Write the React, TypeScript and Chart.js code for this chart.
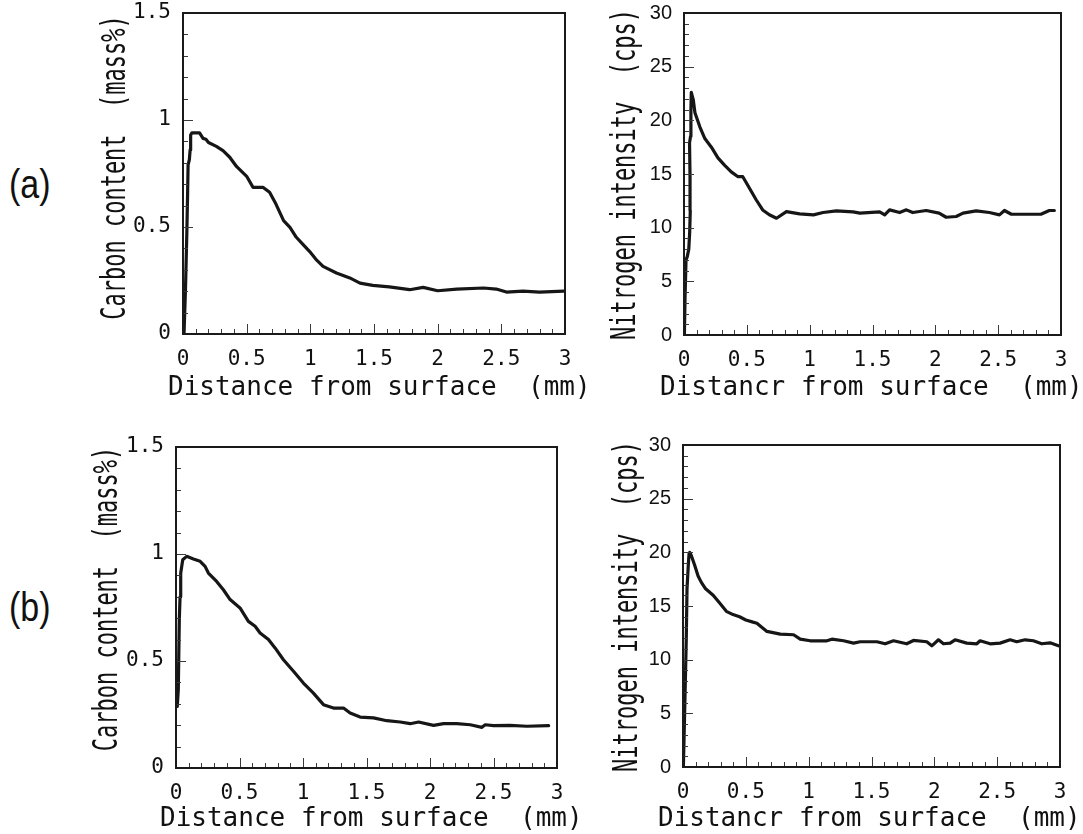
import React, { useEffect, useRef } from 'react';
import { Chart, registerables } from 'chart.js';

Chart.register(...registerables);

// ---------------- data ----------------
const distanceTicks = [0, 0.5, 1, 1.5, 2, 2.5, 3];
const carbonTicks = [0, 0.5, 1, 1.5];
const nitrogenTicks = [0, 5, 10, 15, 20, 25, 30];

// (a) carbon content (mass%) vs distance (mm)
const carbonA_x = [0.008, 0.02, 0.03, 0.036, 0.04, 0.05, 0.056, 0.06, 0.07, 0.13, 0.157, 0.18, 0.2, 0.262, 0.314, 0.367, 0.42, 0.46, 0.5, 0.55, 0.63, 0.68, 0.73, 0.79, 0.84, 0.89, 0.94, 0.995, 1.05, 1.1, 1.205, 1.31, 1.39, 1.49, 1.62, 1.78, 1.886, 2.0, 2.15, 2.36, 2.46, 2.54, 2.67, 2.8, 2.99];
const carbonA_y = [0.0, 0.22, 0.47, 0.65, 0.79, 0.815, 0.86, 0.93, 0.94, 0.94, 0.914, 0.91, 0.895, 0.877, 0.857, 0.826, 0.783, 0.76, 0.737, 0.685, 0.685, 0.662, 0.607, 0.53, 0.498, 0.452, 0.42, 0.385, 0.345, 0.316, 0.285, 0.262, 0.238, 0.227, 0.22, 0.207, 0.218, 0.202, 0.21, 0.215, 0.21, 0.196, 0.2, 0.196, 0.2];

// (a) nitrogen intensity (cps) vs distance (mm)
const nitrogenA_x = [0.003, 0.008, 0.016, 0.026, 0.038, 0.045, 0.05, 0.048, 0.044, 0.052, 0.055, 0.058, 0.065, 0.074, 0.087, 0.126, 0.166, 0.218, 0.27, 0.324, 0.376, 0.43, 0.468, 0.52, 0.574, 0.626, 0.679, 0.736, 0.815, 0.92, 1.03, 1.107, 1.213, 1.345, 1.4, 1.557, 1.597, 1.636, 1.716, 1.77, 1.82, 1.927, 2.03, 2.086, 2.166, 2.22, 2.325, 2.43, 2.51, 2.55, 2.605, 2.72, 2.84, 2.907, 2.947];
const nitrogenA_y = [0, 3.3, 7.0, 7.3, 8.0, 9.5, 11.6, 14.75, 17.9, 18.5, 21.0, 22.6, 22.3, 21.9, 20.7, 19.4, 18.3, 17.5, 16.5, 15.8, 15.2, 14.75, 14.75, 13.7, 12.6, 11.65, 11.2, 10.88, 11.5, 11.28, 11.19, 11.41, 11.56, 11.47, 11.35, 11.47, 11.19, 11.66, 11.41, 11.66, 11.41, 11.6, 11.35, 10.97, 11.04, 11.35, 11.56, 11.41, 11.19, 11.6, 11.25, 11.25, 11.25, 11.6, 11.6];

// (b) carbon content (mass%) vs distance (mm)
const carbonB_x = [0.01, 0.018, 0.026, 0.032, 0.037, 0.053, 0.084, 0.137, 0.19, 0.229, 0.255, 0.32, 0.373, 0.426, 0.504, 0.57, 0.623, 0.662, 0.728, 0.78, 0.846, 0.925, 1.003, 1.082, 1.161, 1.24, 1.319, 1.371, 1.45, 1.555, 1.66, 1.765, 1.844, 1.91, 2.028, 2.107, 2.21, 2.317, 2.409, 2.435, 2.5, 2.63, 2.763, 2.934];
const carbonB_y = [0.288, 0.366, 0.693, 0.8, 0.91, 0.973, 0.989, 0.977, 0.966, 0.942, 0.911, 0.872, 0.833, 0.787, 0.748, 0.685, 0.662, 0.631, 0.6, 0.561, 0.506, 0.452, 0.397, 0.35, 0.296, 0.28, 0.28, 0.257, 0.238, 0.234, 0.221, 0.215, 0.207, 0.215, 0.199, 0.207, 0.207, 0.202, 0.19, 0.202, 0.198, 0.199, 0.195, 0.198];

// (b) nitrogen intensity (cps) vs distance (mm)
const nitrogenB_x = [0.003, 0.013, 0.026, 0.032, 0.042, 0.048, 0.053, 0.066, 0.093, 0.12, 0.146, 0.18, 0.24, 0.29, 0.345, 0.398, 0.45, 0.5, 0.557, 0.588, 0.668, 0.774, 0.88, 0.933, 1.012, 1.145, 1.185, 1.277, 1.357, 1.41, 1.543, 1.609, 1.675, 1.78, 1.834, 1.94, 1.98, 2.033, 2.073, 2.126, 2.165, 2.258, 2.338, 2.364, 2.444, 2.523, 2.603, 2.656, 2.722, 2.788, 2.855, 2.921, 2.987];
const nitrogenB_y = [0, 5.0, 11.9, 16.6, 18.8, 19.85, 20.0, 19.7, 18.8, 17.8, 17.2, 16.6, 16.0, 15.3, 14.5, 14.2, 14.0, 13.7, 13.5, 13.4, 12.63, 12.38, 12.32, 11.91, 11.76, 11.76, 11.91, 11.76, 11.54, 11.67, 11.67, 11.48, 11.76, 11.48, 11.79, 11.67, 11.29, 11.85, 11.48, 11.54, 11.85, 11.54, 11.48, 11.76, 11.48, 11.54, 11.85, 11.67, 11.85, 11.76, 11.48, 11.57, 11.29];

const xTitleLeft = 'Distance from surface  (mm)';
const xTitleRight = 'Distancr from surface  (mm)';
const yTitleCarbon = 'Carbon content  (mass%)';
const yTitleNitrogen = 'Nitrogen intensity  (cps)';

// ---------------- layout / style ----------------
const MONO = '"DejaVu Sans Mono", "Liberation Mono", monospace';
const SANS = '"Liberation Sans", Arial, sans-serif';

type PanelCfg = {
  key: string;
  cx: number; cy: number; cw: number; ch: number; // canvas rect (page coords)
  l: number; t: number; r: number; b: number;     // plot rect (page coords)
  xs: number[]; ys: number[];
  yTicks: number[]; yMax: number; yStep: number;
  yFont: { family: string; size: number };
  yTitle: string; ytBase: number; ytCenter: number;
  xTitle: string; xtLeft: number; xtBase: number;
};

const panels: PanelCfg[] = [
  {
    key: 'aC', cx: 60, cy: -40, cw: 540, ch: 460, l: 183, t: 13, r: 565, b: 334,
    xs: carbonA_x, ys: carbonA_y, yTicks: carbonTicks, yMax: 1.5, yStep: 0.1,
    yFont: { family: MONO, size: 21 },
    yTitle: yTitleCarbon, ytBase: 125, ytCenter: 167.5,
    xTitle: xTitleLeft, xtLeft: 168, xtBase: 395,
  },
  {
    key: 'aN', cx: 600, cy: -40, cw: 483, ch: 460, l: 684, t: 13, r: 1061, b: 335,
    xs: nitrogenA_x, ys: nitrogenA_y, yTicks: nitrogenTicks, yMax: 30, yStep: 1,
    yFont: { family: SANS, size: 20 },
    yTitle: yTitleNitrogen, ytBase: 635, ytCenter: 174.5,
    xTitle: xTitleRight, xtLeft: 660, xtBase: 395,
  },
  {
    key: 'bC', cx: 60, cy: 405, cw: 540, ch: 429, l: 176, t: 447, r: 557, b: 768,
    xs: carbonB_x, ys: carbonB_y, yTicks: carbonTicks, yMax: 1.5, yStep: 0.1,
    yFont: { family: MONO, size: 21 },
    yTitle: yTitleCarbon, ytBase: 117, ytCenter: 599,
    xTitle: xTitleLeft, xtLeft: 160, xtBase: 826,
  },
  {
    key: 'bN', cx: 600, cy: 405, cw: 483, ch: 429, l: 683, t: 445, r: 1060, b: 767,
    xs: nitrogenB_x, ys: nitrogenB_y, yTicks: nitrogenTicks, yMax: 30, yStep: 1,
    yFont: { family: SANS, size: 20 },
    yTitle: yTitleNitrogen, ytBase: 637, ytCenter: 606.5,
    xTitle: xTitleRight, xtLeft: 658, xtBase: 826,
  },
];

function makeFramePlugin(p: PanelCfg) {
  return {
    id: 'frameTicks',
    afterDatasetsDraw(chart: any) {
      const { ctx, chartArea: a } = chart;
      const xs = chart.scales.x;
      const ys = chart.scales.y;
      ctx.save();
      ctx.strokeStyle = '#3a3a3a';
      ctx.lineWidth = 1;
      const drawAxis = (scale: any, majors: number[], step: number, horizontal: boolean) => {
        const n = Math.round((scale.max - scale.min) / step);
        for (let i = 0; i <= n; i++) {
          const v = scale.min + i * step;
          const major = majors.some((m) => Math.abs(m - v) < step / 10);
          const len = major ? 10 : 5;
          const pix = Math.round(scale.getPixelForValue(v)) + 0.5;
          ctx.beginPath();
          if (horizontal) {
            ctx.moveTo(pix, a.bottom);
            ctx.lineTo(pix, a.bottom - len);
          } else {
            ctx.moveTo(a.left, pix);
            ctx.lineTo(a.left + len, pix);
          }
          ctx.stroke();
        }
      };
      drawAxis(xs, distanceTicks, 0.1, true);
      drawAxis(ys, p.yTicks, p.yStep, false);
      ctx.lineWidth = 2;
      ctx.strokeStyle = '#1a1a1a';
      ctx.strokeRect(a.left, a.top, a.right - a.left, a.bottom - a.top);
      ctx.restore();
    },
  };
}

function makeTitlePlugin(p: PanelCfg) {
  return {
    id: 'axisTitles',
    afterDraw(chart: any) {
      const ctx = chart.ctx;
      ctx.save();
      ctx.fillStyle = '#111';
      ctx.font = `26px ${MONO}`;
      ctx.textAlign = 'left';
      ctx.textBaseline = 'alphabetic';
      ctx.fillText(p.xTitle, p.xtLeft - p.cx, p.xtBase - p.cy);
      ctx.translate(p.ytBase - p.cx, p.ytCenter - p.cy);
      ctx.rotate(-Math.PI / 2);
      ctx.scale(1, 1.5);
      ctx.font = `22px ${MONO}`;
      ctx.textAlign = 'center';
      ctx.fillText(p.yTitle, 0, 0);
      ctx.restore();
    },
  };
}

function Panel({ p }: { p: PanelCfg }) {
  const ref = useRef<HTMLCanvasElement | null>(null);
  useEffect(() => {
    if (!ref.current) return;
    const yAxisWidth = p.l - p.cx;
    const xAxisHeight = p.cy + p.ch - p.b;
    const chart = new Chart(ref.current, {
      type: 'line',
      data: {
        datasets: [
          {
            data: p.xs.map((x, i) => ({ x, y: p.ys[i] })),
            borderColor: '#161616',
            borderWidth: 3.2,
            pointRadius: 0,
            tension: 0,
            fill: false,
            borderJoinStyle: 'round',
            borderCapStyle: 'round',
          } as any,
        ],
      },
      options: {
        responsive: false,
        animation: false,
        devicePixelRatio: 1,
        layout: { padding: { left: 0, top: p.t - p.cy, right: p.cx + p.cw - p.r, bottom: 0 } },
        plugins: { legend: { display: false }, tooltip: { enabled: false } },
        scales: {
          x: {
            type: 'linear',
            min: 0,
            max: 3,
            afterBuildTicks: (s: any) => { s.ticks = distanceTicks.map((v) => ({ value: v })); },
            afterFit: (s: any) => { s.height = xAxisHeight; },
            grid: { display: false, drawTicks: false },
            border: { display: false },
            ticks: {
              font: { family: MONO, size: 21 },
              color: '#111',
              padding: 13,
              maxRotation: 0,
              autoSkip: false,
              callback: (v: any) => String(v),
            },
          },
          y: {
            type: 'linear',
            min: 0,
            max: p.yMax,
            afterBuildTicks: (s: any) => { s.ticks = p.yTicks.map((v) => ({ value: v })); },
            afterFit: (s: any) => { s.width = yAxisWidth; },
            grid: { display: false, drawTicks: false },
            border: { display: false },
            ticks: {
              font: p.yFont,
              color: '#111',
              padding: 12,
              autoSkip: false,
              callback: (v: any) => String(v),
            },
          },
        },
      } as any,
      plugins: [makeFramePlugin(p), makeTitlePlugin(p)],
    });
    return () => chart.destroy();
  }, [p]);
  return (
    <canvas
      ref={ref}
      width={p.cw}
      height={p.ch}
      style={{ position: 'absolute', left: p.cx, top: p.cy, width: p.cw, height: p.ch }}
    />
  );
}

const labelStyle: React.CSSProperties = {
  position: 'absolute',
  left: 9,
  fontFamily: SANS,
  fontSize: 34,
  lineHeight: '40px',
  color: '#111',
  transform: 'scaleY(1.2)',
  transformOrigin: '50% 50%',
  whiteSpace: 'nowrap',
};

export default function App() {
  return (
    <div
      style={{
        position: 'absolute',
        left: 0,
        top: 0,
        width: 1083,
        height: 834,
        background: '#fff',
        overflow: 'hidden',
      }}
    >
      <div style={{ ...labelStyle, top: 164 }}>(a)</div>
      <div style={{ ...labelStyle, top: 587 }}>(b)</div>
      {panels.map((p) => (
        <Panel key={p.key} p={p} />
      ))}
    </div>
  );
}
